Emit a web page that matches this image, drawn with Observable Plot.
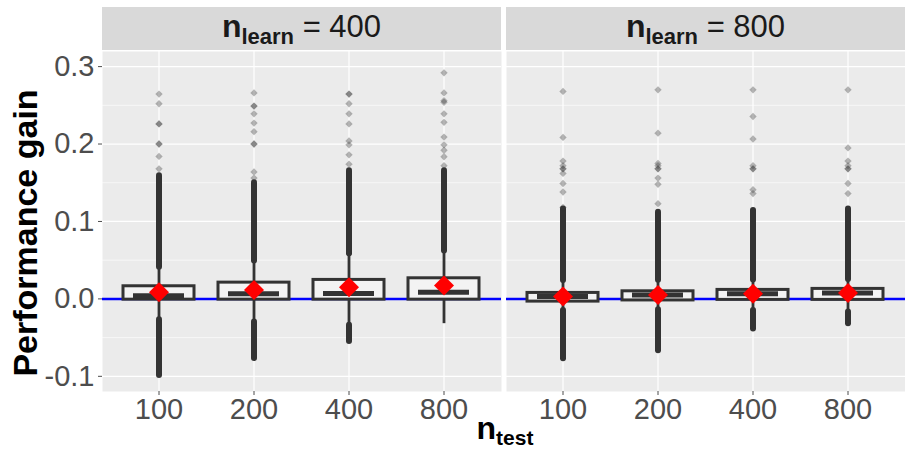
<!DOCTYPE html>
<html><head><meta charset="utf-8">
<script src="https://cdn.jsdelivr.net/npm/d3@7"></script>
<script src="https://cdn.jsdelivr.net/npm/@observablehq/plot@0.6"></script>
<style>body{margin:0;background:#fff} svg{display:block}</style>
</head><body><div id="chart"></div>
<script>
// ---- data ----
const nTest = ["100", "200", "400", "800"];
const nLearn = ["400", "800"];
const yTicks = [-0.1, 0, 0.1, 0.2, 0.3];
const yTickLabels = ["-0.1", "0.0", "0.1", "0.2", "0.3"];
const yMinor = [-0.05, 0.05, 0.15, 0.25];

// rows: [n_learn = 400, n_learn = 800]; columns follow nTest
const q1 = [[-0.001, -0.001, -0.001, -0.001], [-0.0035, -0.002, -0.0013, -0.0013]];
const q3 = [[0.0163, 0.021, 0.0245, 0.0266], [0.0077, 0.0098, 0.0116, 0.0129]];
const median = [[0.004, 0.0065, 0.007, 0.0086], [0.003, 0.005, 0.0065, 0.0077]];
const meanGain = [[0.0085, 0.0116, 0.015, 0.0172], [0.003, 0.005, 0.0065, 0.0077]];
const whiskerLow = [[-0.027, -0.030, -0.034, -0.032], [-0.015, -0.014, -0.015, -0.017]];
const whiskerHigh = [[0.041, 0.049, 0.058, 0.062], [0.0236, 0.024, 0.0245, 0.025]];
// extent of the dense runs of outliers beyond the whiskers
const denseHigh = [[0.159, 0.15, 0.1655, 0.1655], [0.116, 0.112, 0.114, 0.116]];
const denseLow = [[-0.099, -0.077, -0.055, null], [-0.0774, -0.067, -0.039, -0.032]];
// isolated outliers
const sparseOutliers = [
  [
    [0.168, 0.184, 0.2, 0.2, 0.226, 0.226, 0.252, 0.2645],
    [0.156, 0.164, 0.2, 0.2, 0.216, 0.227, 0.239, 0.249, 0.249, 0.266],
    [0.174, 0.186, 0.199, 0.204, 0.226, 0.239, 0.252, 0.2645, 0.2645],
    [0.172, 0.1836, 0.192, 0.199, 0.209, 0.228, 0.239, 0.254, 0.256, 0.266, 0.292]
  ],
  [
    [0.118, 0.138, 0.149, 0.162, 0.168, 0.168, 0.172, 0.178, 0.2085, 0.268],
    [0.123, 0.148, 0.156, 0.168, 0.168, 0.172, 0.175, 0.214, 0.27],
    [0.136, 0.141, 0.168, 0.168, 0.172, 0.2065, 0.2356, 0.27],
    [0.136, 0.149, 0.168, 0.168, 0.172, 0.178, 0.195, 0.27]
  ]
];

// ---- tables built from the arrays ----
const rows = [];
const outliers = [];
nLearn.forEach((L, li) => nTest.forEach((t, ti) => {
  rows.push({
    learn: L, test: t,
    q1: q1[li][ti], q3: q3[li][ti], med: median[li][ti], mean: meanGain[li][ti],
    wlo: whiskerLow[li][ti], whi: whiskerHigh[li][ti],
    dhi: denseHigh[li][ti], dlo: denseLow[li][ti]
  });
  sparseOutliers[li][ti].forEach(v => outliers.push({learn: L, test: t, v}));
}));
const lowRows = rows.filter(d => d.dlo != null);

const plot = Plot.plot({
  width: 905, height: 451,
  marginLeft: 102, marginRight: 0, marginTop: 51, marginBottom: 60,
  style: {fontFamily: "'Liberation Sans', Arial, sans-serif", fontSize: "29px", background: "white", overflow: "visible"},
  fx: {domain: nLearn, paddingInner: 5 / 404, paddingOuter: 0, axis: null, label: null},
  x: {type: "band", domain: nTest, paddingInner: 0.25, paddingOuter: 0.225, label: null},
  y: {domain: [-0.1196, 0.3195], label: null},
  marks: [
    Plot.frame({fill: "#EBEBEB", stroke: "none"}),
    Plot.ruleY(yMinor, {stroke: "white", strokeWidth: 0.6}),
    Plot.ruleY(yTicks, {stroke: "white", strokeWidth: 1.2}),
    Plot.ruleX(nTest, {x: d => d, stroke: "white", strokeWidth: 1.2}),
    Plot.ruleY([0], {stroke: "#0000FF", strokeWidth: 2.5}),
    Plot.ruleX(rows, {x: "test", fx: "learn", y1: "wlo", y2: "whi", stroke: "#333333", strokeWidth: 2.8}),
    Plot.ruleX(rows, {x: "test", fx: "learn", y1: "whi", y2: "dhi", stroke: "#333333", strokeWidth: 6, strokeLinecap: "round"}),
    Plot.ruleX(lowRows, {x: "test", fx: "learn", y1: "wlo", y2: "dlo", stroke: "#333333", strokeWidth: 6, strokeLinecap: "round"}),
    Plot.dot(outliers, {x: "test", fx: "learn", y: "v", symbol: "diamond2", r: 3.3, fill: "#333333", fillOpacity: 0.35, stroke: "none"}),
    Plot.barY(rows, {x: "test", fx: "learn", y1: "q1", y2: "q3", fill: "#F3F3F3", stroke: "#333333", strokeWidth: 3}),
    Plot.tickY(rows, {x: "test", fx: "learn", y: "med", stroke: "#333333", strokeWidth: 5, insetLeft: 10, insetRight: 10}),
    Plot.dot(rows, {x: "test", fx: "learn", y: "mean", symbol: "diamond2", r: 9, fill: "#FF0000", stroke: "none"}),
    Plot.axisY(yTicks, {tickFormat: (d) => yTickLabels[yTicks.indexOf(d)], tickSize: 4, tickPadding: 4, fontSize: 29, color: "#4D4D4D", label: null}),
    Plot.axisX({tickSize: 4, tickPadding: 3, fontSize: 29, color: "#4D4D4D", label: null})
  ]
});

document.getElementById("chart").appendChild(plot);

// strips, axis titles
const svg = d3.select(plot);
const fx = plot.scale("fx");
nLearn.forEach(L => {
  const x0 = fx.apply(L), bw = fx.bandwidth;
  svg.append("rect").attr("x", x0).attr("y", 7).attr("width", bw).attr("height", 43).attr("fill", "#D9D9D9");
  const t = svg.append("text").attr("x", x0 + bw / 2).attr("y", 37).attr("text-anchor", "middle").attr("fill", "#1A1A1A");
  t.append("tspan").attr("font-weight", "bold").attr("font-size", 32).text("n");
  t.append("tspan").attr("font-weight", "bold").attr("font-size", 22).attr("dy", 7).text("learn");
  t.append("tspan").attr("font-size", 31).attr("dy", -7).text("\u00A0=\u00A0" + L);
});
svg.append("text").attr("transform", "translate(37,233) rotate(-90)").attr("text-anchor", "middle")
  .attr("font-weight", "bold").attr("font-size", 34).attr("fill", "black").text("Performance gain");
const xl = svg.append("text").attr("x", 505).attr("y", 439).attr("text-anchor", "middle").attr("fill", "black").attr("font-weight", "bold");
xl.append("tspan").attr("font-size", 32).text("n");
xl.append("tspan").attr("font-size", 21).attr("dy", 6).text("test");
</script>
</body></html>
